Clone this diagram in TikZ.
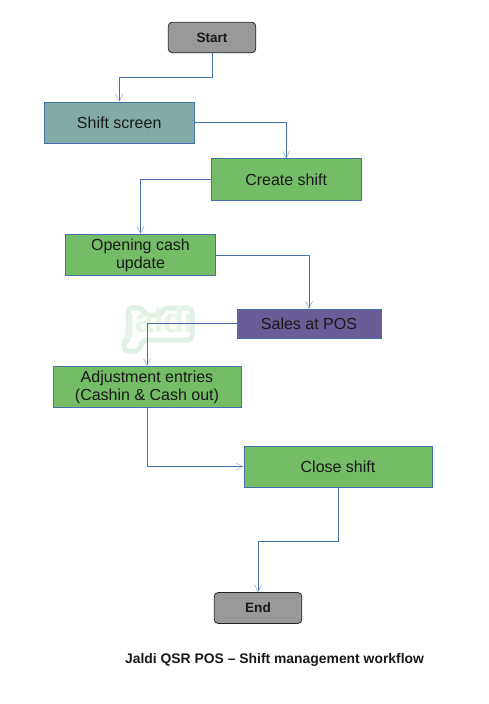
\documentclass[tikz,border=0pt]{standalone}
\usepackage{fontspec}
\setmainfont{Liberation Sans}
\usetikzlibrary{arrows.meta,positioning}
\definecolor{lineblue}{RGB}{70,112,172}
\definecolor{arrowblue}{RGB}{120,155,205}
\definecolor{boxgreen}{RGB}{117,188,103}
\definecolor{boxteal}{RGB}{131,171,166}
\definecolor{boxpurple}{RGB}{107,92,152}
\definecolor{boxgray}{RGB}{153,153,153}
\definecolor{wmtext}{RGB}{230,244,230}
\definecolor{wmline}{RGB}{225,240,228}
\tikzset{
  x=1pt,y=-1pt,
  flowbox/.style={draw=lineblue,line width=0.9pt,anchor=center,inner sep=0pt,align=center,font=\fontsize{16}{18}\selectfont,text=black!90},
  term/.style={draw=black!85,line width=0.8pt,fill=boxgray,rounded corners=4pt,inner sep=0pt,anchor=center,font=\fontsize{13.6}{15}\selectfont\bfseries,text=black!90},
  conn/.style={draw=lineblue,line width=0.8pt,-{Straight Barb[length=7pt,width=7pt,line width=0.4pt,color=arrowblue]}},
  wmblob/.style={draw=wmline,line width=5pt,fill=white,rounded corners=4pt,line join=round},
}
\begin{document}
\begin{tikzpicture}
\useasboundingbox (0,0) rectangle (488,704);
\path[wmblob] (128,308) -- (143,308) -- (144,315) -- (162,315) -- (163,308) -- (192,308) -- (192,340) -- (143,340) -- (139,351) -- (124,351) -- (124,342) -- (128,340) -- cycle;
\node[font=\fontsize{34}{34}\selectfont\bfseries,text=wmtext,inner sep=0pt] (wm) at (159.5,324) {jaldi};
\node[term,minimum width=87.5pt,minimum height=30.5pt] (start) at (212,37.5) {Start};
\node[flowbox,fill=boxteal,minimum width=150pt,minimum height=41.5pt] (shift) at (119.2,122.8) {Shift screen};
\node[flowbox,fill=boxgreen,minimum width=150pt,minimum height=41.5pt] (create) at (286.2,179.6) {Create shift};
\node[flowbox,fill=boxgreen,minimum width=150pt,minimum height=41.5pt] (open) at (140.5,255) {\raisebox{-1.5pt}{Opening cash}\\\raisebox{-1.5pt}{update}};
\node[flowbox,fill=boxpurple,minimum width=144pt,minimum height=29pt] (sales) at (309,323.8) {Sales at POS};
\node[flowbox,fill=boxgreen,minimum width=188pt,minimum height=41.5pt] (adj) at (147,387) {\raisebox{-1.5pt}{Adjustment entries}\\\raisebox{-1.5pt}{(Cashin \& Cash out)}};
\node[flowbox,fill=boxgreen,minimum width=188pt,minimum height=41.5pt] (close) at (338,466.8) {Close shift};
\node[term,minimum width=87.5pt,minimum height=31pt] (end) at (258,608) {End};
\node[font=\fontsize{13.9}{15}\selectfont\bfseries,text=black!90,inner sep=0pt] (title) at (274.5,660) {Jaldi QSR POS – Shift management workflow};
\draw[conn] (start.south) -- (212,77) -| (shift.north);
\draw[conn] (shift.east) -| (create.north);
\draw[conn] (create.west) -| (open.north);
\draw[conn] (open.east) -| (sales.north);
\draw[conn] (sales.west) -| (adj.north);
\draw[conn] (adj.south) |- (close.west);
\draw[conn] (close.south) -- (338,541) -| (end.north);
\end{tikzpicture}
\end{document}
